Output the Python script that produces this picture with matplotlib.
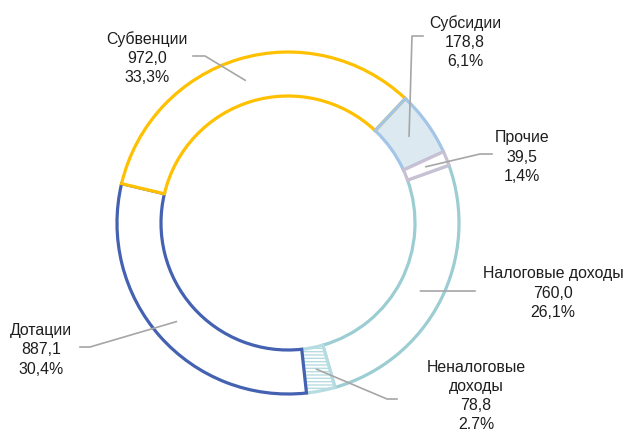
import numpy as np
import matplotlib
matplotlib.use("Agg")
import matplotlib.pyplot as plt

plt.rcParams['font.family'] = ['Liberation Sans Narrow', 'Liberation Sans', 'DejaVu Sans']
plt.rcParams['hatch.linewidth'] = 1.0

# budget structure
names = ["Субсидии", "Прочие", "Налоговые доходы", "Неналоговые\nдоходы", "Дотации", "Субвенции"]
values = [178.8, 39.5, 760.0, 78.8, 887.1, 972.0]
shares = ["6,1%", "1,4%", "26,1%", "2.7%", "30,4%", "33,3%"]
value_text = ["178,8", "39,5", "760,0", "78,8", "887,1", "972,0"]

edges = ["#a3c5e8", "#c8c0d3", "#9ccdd2", "#b5dde1", "#4462b1", "#ffc000"]
faces = ["#dce9f0", "white", "white", "white", "white", "white"]
hatches = [None, None, None, "-----", None, None]
zorders = [2, 3, 1, 2, 2, 2]

W, H = 625, 439
fig = plt.figure(figsize=(W / 100, H / 100), dpi=100)
ax = fig.add_axes([0, 0, 1, 1])

def Y(y):
    return H - y

cx, cy = 288, Y(224)
R, ring = 171, 44

wedges, _ = ax.pie(values, center=(cx, cy), radius=R, counterclock=False,
                   startangle=46.7, wedgeprops=dict(width=ring, linewidth=2.3),
                   frame=True)
ax.set_xlim(0, W)
ax.set_ylim(0, H)
ax.axis("off")
for w, ec, fc, h, z in zip(wedges, edges, faces, hatches, zorders):
    w.set_edgecolor(ec)
    w.set_facecolor(fc)
    w.set_zorder(z)
    if h:
        w.set_hatch(h)

# start edge of the first slice sits on top
t = np.deg2rad(wedges[0].theta2)
ax.plot([cx + (R - ring) * np.cos(t), cx + R * np.cos(t)],
        [cy + (R - ring) * np.sin(t), cy + R * np.sin(t)],
        color=edges[0], lw=2.3, zorder=2.5)

# leader elbows and label positions (image pixels)
elbows = [(412, 37), (480, 155), (460, 292), (387, 400), (90, 348), (205, 57)]
ends = [(423, 37), (492, 155), (475, 292), (397, 400), (80, 348), (193, 57)]
label_pos = [(465, 42), (522, 157), (553, 293), (476, 396), (41, 350), (147, 58)]

for w, n, v, s, e1, e2, lp in zip(wedges, names, value_text, shares, elbows, ends, label_pos):
    mid = np.deg2rad((w.theta1 + w.theta2) / 2)
    r = R - ring / 2
    px, py = cx + r * np.cos(mid), cy + r * np.sin(mid)
    ax.plot([px, e1[0], e2[0]], [py, Y(e1[1]), Y(e2[1])], color="#a6a6a6", lw=1.2, zorder=4)
    ax.text(lp[0], Y(lp[1]), f"{n}\n{v}\n{s}", ha="center", va="center",
            fontsize=11.4, color="#1e1e1e", linespacing=1.35)

fig.savefig("out.png", dpi=100)
